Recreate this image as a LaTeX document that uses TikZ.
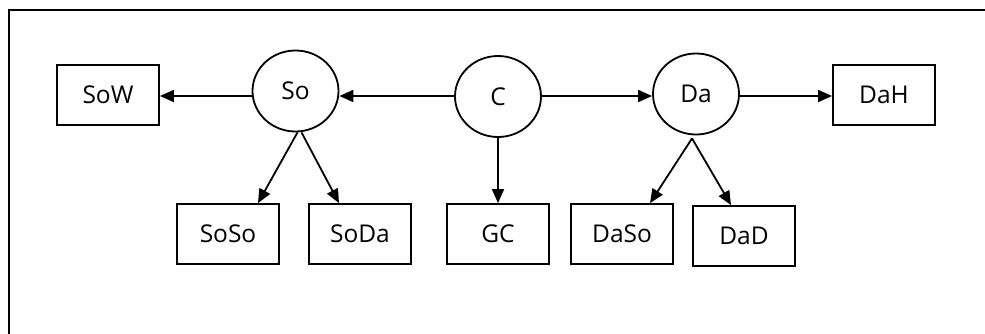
\documentclass[tikz,border=0pt]{standalone}
\usepackage{fontspec}
\setmainfont{Open Sans}
\usetikzlibrary{arrows.meta,shapes.geometric}
\tikzset{
  box/.style={draw, line width=1.8pt, minimum width=102pt, minimum height=60pt, inner sep=0pt, font=\fontsize{24.5}{26}\selectfont},
  oval/.style={draw, ellipse, line width=1.8pt, minimum width=86pt, minimum height=81pt, inner sep=0pt, font=\fontsize{24.5}{26}\selectfont},
  link/.style={line width=1.8pt, -{Triangle[length=14pt,width=12pt]}},
  frameline/.style={line width=1.8pt}
}
\begin{document}
\begin{tikzpicture}[x=1pt,y=-1pt]
  \useasboundingbox (0,0) rectangle (985,333);
  % open frame: left and top edges only
  \coordinate (fb) at (9,334);
  \coordinate (fc) at (9,10);
  \coordinate (fr) at (985,10);
  \draw[frameline] (fb) -- (fc) -- (fr);

  % top row
  \node[box]  (SoW) at (108,95)   {SoW};
  \node[oval] (So)  at (295.5,91) {So};
  \node[oval] (C)   at (498,96.5) {C};
  \node[oval] (Da)  at (696,94)   {Da};
  \node[box]  (DaH) at (884,95)   {DaH};

  % bottom row
  \node[box] (SoSo) at (228,234) {SoSo};
  \node[box] (SoDa) at (360,234) {SoDa};
  \node[box] (GC)   at (498,234) {GC};
  \node[box] (DaSo) at (622,234) {DaSo};
  \node[box] (DaD)  at (744,236) {DaD};

  % horizontal links
  \draw[link] (C.west |- 0,96)  -- (So.east |- 0,96);
  \draw[link] (So.west |- 0,96) -- (SoW.east |- 0,96);
  \draw[link] (C.east |- 0,96)  -- (Da.west |- 0,96);
  \draw[link] (Da.east |- 0,96) -- (DaH.west |- 0,96);

  % downward links
  \draw[link] ([xshift=2pt]So.south)  -- ([xshift=30pt]SoSo.north);
  \draw[link] ([xshift=6pt]So.south)  -- ([xshift=-21pt]SoDa.north);
  \draw[link] (C.south) -- (GC.north);
  \draw[link] ([xshift=-4pt,yshift=-3pt]Da.south) -- ([xshift=28pt]DaSo.north);
  \draw[link] ([xshift=-4pt,yshift=-3pt]Da.south) -- ([xshift=-13pt]DaD.north);
\end{tikzpicture}
\end{document}
